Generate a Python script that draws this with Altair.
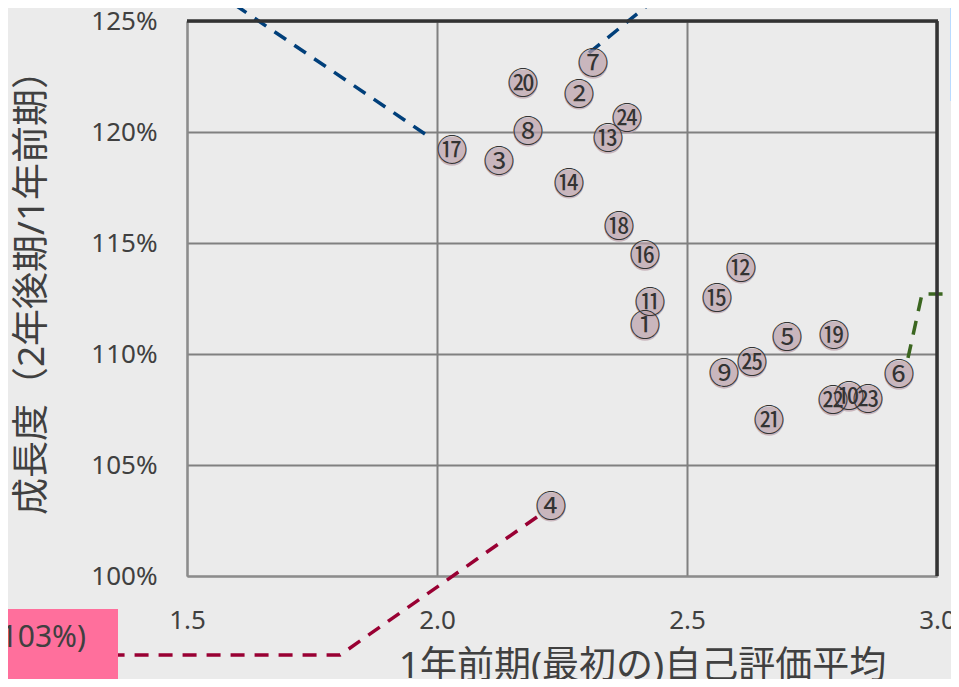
import altair as alt
import pandas as pd

# ---- point data ----
labels = ["①", "②", "③", "④", "⑤", "⑥", "⑦", "⑧", "⑨", "⑩",
          "⑪", "⑫", "⑬", "⑭", "⑮", "⑯", "⑰", "⑱", "⑲", "⑳",
          "㉑", "㉒", "㉓", "㉔", "㉕"]
x_vals = [2.416, 2.284, 2.124, 2.228, 2.700, 2.924, 2.312, 2.182, 2.574, 2.824,
          2.426, 2.608, 2.342, 2.264, 2.560, 2.416, 2.030, 2.364, 2.794, 2.172,
          2.664, 2.792, 2.862, 2.380, 2.630]
y_vals = [111.26, 121.67, 118.65, 103.11, 110.72, 109.05, 123.06, 120.00, 109.10, 108.06,
          112.30, 113.83, 119.68, 117.66, 112.48, 114.41, 119.14, 115.72, 110.81, 122.16,
          106.98, 107.88, 107.93, 120.59, 109.59]

# ---- leader lines (callouts running out of the plot) ----
blue_a_x = [1.976, 1.552]
blue_a_y = [119.91, 126.40]
blue_b_x = [2.304, 2.459]
blue_b_y = [123.56, 126.40]
green_x = [2.942, 2.970, 3.080]
green_y = [109.82, 112.70, 112.70]
maroon_x = [2.200, 1.806, 1.362]
maroon_y = [102.66, 96.44, 96.44]

# ---- callout boxes (mostly outside the visible area) ----
box_names = ["blue_left", "blue_right", "pink"]
box_x1 = [1.110, 3.026, 1.126]
box_x2 = [1.126, 3.050, 1.362]
box_y1 = [126.50, 126.50, 98.51]
box_y2 = [122.05, 121.40, 94.90]
box_colors = ["#b9dbff", "#b9dbff", "#ff6f9c"]
pink_text = "103%)"
pink_text_x = 1.298
pink_text_y = 97.20

pts = pd.DataFrame({"label": labels, "x": x_vals, "y": y_vals})

line_rows = []
for name, xs, ys in [("blue_a", blue_a_x, blue_a_y), ("blue_b", blue_b_x, blue_b_y),
                     ("green", green_x, green_y), ("maroon", maroon_x, maroon_y)]:
    for i, (a, b) in enumerate(zip(xs, ys)):
        line_rows.append({"line": name, "order": i, "x": a, "y": b})
lines = pd.DataFrame(line_rows)

boxes = pd.DataFrame({"box": box_names, "x1": box_x1, "x2": box_x2,
                      "y1": box_y1, "y2": box_y2, "c": box_colors})

FONT_LAT = "Noto Sans"
FONT_CJK = "Noto Sans, Noto Sans CJK JP"

xscale = alt.Scale(domain=[1.5, 3.0], nice=False, zero=False)
yscale = alt.Scale(domain=[100, 125], nice=False, zero=False)

xaxis = alt.Axis(values=[1.5, 2.0, 2.5, 3.0], format=".1f", title="1年前期(最初の)自己評価平均",
                 ticks=False, grid=True, gridColor="#808080", gridWidth=2,
                 domainColor="#8c8c8c", domainWidth=2, labelFlush=False,
                 labelFont=FONT_LAT, labelFontSize=26, labelColor="#404040", labelPadding=31,
                 titleFont=FONT_CJK, titleFontSize=37, titleColor="#404040", titleFontWeight="normal",
                 titleX=642 - 187, titleY=90, titleAlign="center", titleBaseline="middle")
yaxis = alt.Axis(values=[100, 105, 110, 115, 120, 125], labelExpr="datum.value + '%'",
                 title="成長度（2年後期/1年前期）", labelFlush=False,
                 ticks=False, grid=True, gridColor="#808080", gridWidth=2,
                 domainColor="#8c8c8c", domainWidth=2,
                 labelFont=FONT_LAT, labelFontSize=26, labelColor="#404040", labelPadding=30,
                 titleFont=FONT_CJK, titleFontSize=37, titleColor="#404040", titleFontWeight="normal",
                 titleAngle=270, titleX=-155, titleY=262, titleAlign="center", titleBaseline="middle")

base_axes = alt.Chart(pts).mark_point(opacity=0).encode(
    x=alt.X("x:Q", scale=xscale, axis=xaxis),
    y=alt.Y("y:Q", scale=yscale, axis=yaxis),
)

one = pd.DataFrame({"a": [0]})
top_border = alt.Chart(one).mark_rule(color="#333333", strokeWidth=3.5).encode(
    x=alt.value(0), x2=alt.value(751), y=alt.value(0))
right_border = alt.Chart(one).mark_rule(color="#333333", strokeWidth=3.5).encode(
    x=alt.value(750), y=alt.value(0), y2=alt.value(555))

box_layer = alt.Chart(boxes).mark_rect(clip=False).encode(
    x=alt.X("x1:Q", scale=xscale), x2="x2:Q",
    y=alt.Y("y1:Q", scale=yscale), y2="y2:Q",
    color=alt.Color("c:N", scale=None, legend=None),
)

pink_label = alt.Chart(pd.DataFrame({"t": [pink_text], "x": [pink_text_x], "y": [pink_text_y]})).mark_text(
    clip=False, align="right", baseline="middle", font=FONT_LAT, fontSize=30, color="#404040"
).encode(x=alt.X("x:Q", scale=xscale), y=alt.Y("y:Q", scale=yscale), text="t:N")

line_layer = alt.Chart(lines).mark_line(clip=False, strokeDash=[14, 10], strokeWidth=3.5).encode(
    x=alt.X("x:Q", scale=xscale),
    y=alt.Y("y:Q", scale=yscale),
    order="order:Q",
    detail="line:N",
    color=alt.Color("line:N", legend=None,
                    scale=alt.Scale(domain=["blue_a", "blue_b", "green", "maroon"],
                                    range=["#003f7a", "#003f7a", "#3b6620", "#990033"])),
)

circles = alt.Chart(pts).mark_circle(size=860, color="#ba9fa9", opacity=0.7).encode(
    x=alt.X("x:Q", scale=xscale),
    y=alt.Y("y:Q", scale=yscale),
)
texts = alt.Chart(pts).mark_text(font="Noto Sans CJK JP", fontSize=31, color="#333333",
                                 baseline="middle", align="center", dy=1).encode(
    x=alt.X("x:Q", scale=xscale),
    y=alt.Y("y:Q", scale=yscale),
    text="label:N",
)

chart = alt.layer(base_axes, box_layer, pink_label, line_layer, top_border, right_border,
                  circles, texts).properties(
    width=750, height=555,
    autosize=alt.AutoSizeParams(type="none"),
    padding={"left": 179, "top": 13, "right": 14, "bottom": 103},
    background="#EBEBEB",
).configure_view(stroke=None, fill="#EBEBEB")

chart.save("out.html", embed_options={"renderer": "svg", "actions": False})
